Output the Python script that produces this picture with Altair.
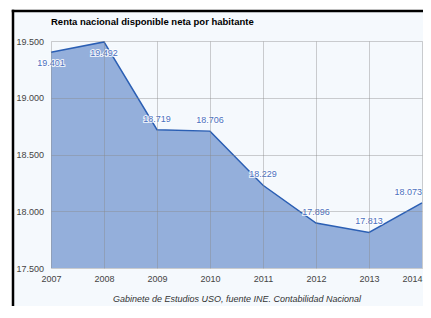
import altair as alt
import pandas as pd

years = [2007, 2008, 2009, 2010, 2011, 2012, 2013, 2014]
renta = [19401, 19492, 18719, 18706, 18229, 17896, 17813, 18073]
y_ticks = [17500, 18000, 18500, 19000, 19500]
title_text = "Renta nacional disponible neta por habitante"
footer_text = "Gabinete de Estudios USO, fuente INE. Contabilidad Nacional"

df = pd.DataFrame({"year": years, "value": renta})
FONT = "Liberation Sans"
W, H = 371, 227
PL, PT = 43, 33
TOTAL_W, TOTAL_H = 415, 298

x_enc = alt.X("year:Q",
              scale=alt.Scale(domain=[2007, 2014], nice=False, zero=False),
              axis=alt.Axis(values=years, format="d", title=footer_text,
                            titleFontStyle="italic", titleFontWeight="normal",
                            titleFontSize=9, titleColor="#333", titlePadding=11,
                            labelFontSize=9, labelColor="#444", labelPadding=6,
                            labelFlush=False,
                            labelAlign=alt.condition("datum.value == 2014",
                                                     alt.value("right"), alt.value("center")),
                            ticks=False, domain=False, grid=True, zindex=1,
                            gridColor="#888", gridOpacity=0.4, labelFont=FONT,
                            titleFont=FONT))
y_enc = alt.Y("value:Q",
              scale=alt.Scale(domain=[17500, 19500], nice=False, zero=False),
              axis=alt.Axis(values=y_ticks, title=None,
                            labelExpr="replace(format(datum.value, ',d'), ',', '.')",
                            labelAlign="left", labelPadding=35, labelBaseline="middle",
                            labelFontSize=9, labelColor="#444", labelFont=FONT,
                            labelFlush=False,
                            ticks=False, domain=False, grid=True, zindex=1,
                            gridColor="#888", gridOpacity=0.4))

one = pd.DataFrame({"a": [0]})
bg = alt.Chart(one).mark_rect(fill="#f5f9fd").encode(
    x=alt.value(-38), x2=alt.value(TOTAL_W - PL),
    y=alt.value(-30), y2=alt.value(TOTAL_H - PT))
top_rule = alt.Chart(one).mark_rule(color="#000", strokeWidth=2.5).encode(
    x=alt.value(-39.25), x2=alt.value(TOTAL_W - PL), y=alt.value(-30))
left_rule = alt.Chart(one).mark_rule(color="#000", strokeWidth=2.5).encode(
    x=alt.value(-38), y=alt.value(-31.25), y2=alt.value(TOTAL_H - PT))

title = alt.Chart(pd.DataFrame({"t": [title_text]})).mark_text(
    align="left", baseline="middle", font=FONT, fontSize=9.5, fontWeight="bold", color="#000"
).encode(x=alt.value(0), y=alt.value(-19.5), text="t:N")

base = alt.Chart(df).encode(x=x_enc, y=y_enc)
area = base.mark_area(color="#94afdb", opacity=1, clip=True)
line = base.mark_line(color="#2b5fb4", strokeWidth=1.5)

lab = base.transform_calculate(
    lbl="replace(format(datum.value, ',d'), ',', '.')"
)
below = lab.transform_filter("datum.year <= 2008")
above = lab.transform_filter("datum.year > 2008 && datum.year < 2014")
last = lab.transform_filter("datum.year == 2014")

def txt(src, dy, halo, align="center"):
    if halo:
        return src.mark_text(dy=dy, align=align, font=FONT, fontSize=9, stroke="white",
                             strokeWidth=2, strokeOpacity=0.8, fill="white").encode(text="lbl:N")
    return src.mark_text(dy=dy, align=align, font=FONT, fontSize=9,
                         color="#4a70c0").encode(text="lbl:N")

chart = alt.layer(
    bg, top_rule, left_rule, area, line,
    txt(below, 11, True), txt(below, 11, False),
    txt(above, -11, True), txt(above, -11, False),
    txt(last, -11, True, "right"), txt(last, -11, False, "right"),
    title
).properties(
    width=W, height=H,
    autosize=alt.AutoSizeParams(type="none"),
    padding={"left": PL, "top": PT, "right": TOTAL_W - PL - W, "bottom": TOTAL_H - PT - H},
    background="white"
).configure_view(stroke=None)

chart.save("out.html", embed_options={"renderer": "svg", "actions": False})
